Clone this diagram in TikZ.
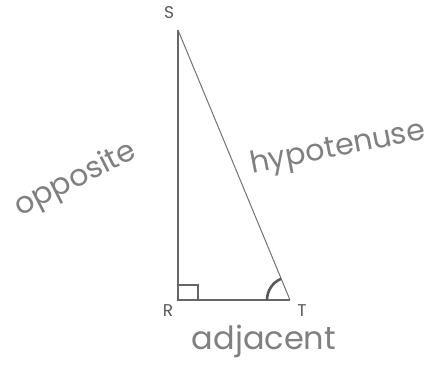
\documentclass[tikz,border=0pt]{standalone}
\usepackage{fontspec}
\setmainfont{Poppins}
\usetikzlibrary{calc}
\begin{document}
\begin{tikzpicture}[x=1pt,y=-1pt,
  side/.style={draw=black!60,line width=1.4pt},
  hyp/.style={draw=black!55,line width=1pt},
  hand/.style={text=black!50,inner sep=0pt},
  vlabel/.style={text=black!65,font=\fontsize{17}{19}\selectfont,inner sep=0pt}]
\useasboundingbox[fill=white] (0,0) rectangle (428,366);
\coordinate (S) at (178,30);
\coordinate (R) at (178,300);
\coordinate (T) at (290,300);
\draw[side] (S) -- (R) -- (T);
\draw[hyp] (S) -- (T);
\draw[side,line width=1.1pt] (178,285) -- (198,285) -- (198,300);
\draw[draw=black!65,line width=2.6pt] ($(T)+(-23,0)$) arc[start angle=180,end angle=247,radius=23];
\node[vlabel] (sl) at (169,13) {S};
\node[vlabel] (rl) at (168,311) {R};
\node[vlabel] (tl) at (302,311) {T};
\node[hand,font=\fontsize{30}{36}\selectfont,rotate=27] (opp) at (76,180) {opposite};
\node[hand,font=\fontsize{30}{36}\selectfont,rotate=11] (hy) at (338,149) {hypotenuse};
\node[hand,font=\fontsize{32}{36}\selectfont] (adj) at (264,341) {adjacent};
\end{tikzpicture}
\end{document}
